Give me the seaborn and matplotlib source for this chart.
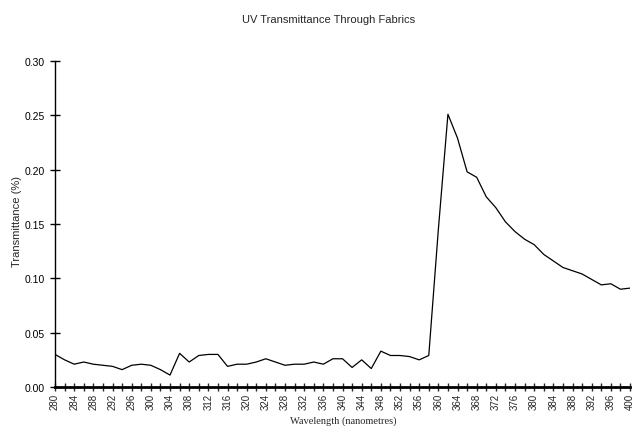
import numpy as np
import pandas as pd
import seaborn as sns
import matplotlib
matplotlib.use("Agg")
import matplotlib.pyplot as plt
import matplotlib.ticker as ticker

# wavelength (nm) and transmittance
wavelength = list(range(280, 402, 2))
transmittance = [
    0.030, 0.025, 0.021, 0.023, 0.021, 0.020, 0.019, 0.016, 0.020, 0.021,
    0.020, 0.016, 0.011, 0.031, 0.023, 0.029, 0.030, 0.030, 0.019, 0.021,
    0.021, 0.023, 0.026, 0.023, 0.020, 0.021, 0.021, 0.023, 0.021, 0.026,
    0.026, 0.018, 0.025, 0.017, 0.033, 0.029, 0.029, 0.028, 0.025, 0.029,
    0.145, 0.251, 0.229, 0.198, 0.193, 0.175, 0.165, 0.152, 0.143, 0.136,
    0.131, 0.122, 0.116, 0.110, 0.107, 0.104, 0.099, 0.094, 0.095, 0.090,
    0.091,
]
y_ticks = [0.00, 0.05, 0.10, 0.15, 0.20, 0.25, 0.30]

df = pd.DataFrame({"wavelength": wavelength, "transmittance": transmittance})

sns.set_style("ticks")
plt.rcParams['font.family'] = ['Liberation Sans', 'DejaVu Sans']

fig = plt.figure(figsize=(6.36, 4.27), dpi=100)
ax = fig.add_axes([0.0865, 0.0913, 0.9041, 0.7635])

sns.lineplot(data=df, x="wavelength", y="transmittance", ax=ax,
             color="black", linewidth=0.9)

ax.set_xlim(280, 400)
ax.set_ylim(0, 0.30)
ax.xaxis.set_major_locator(ticker.MultipleLocator(4))
ax.xaxis.set_minor_locator(ticker.MultipleLocator(2))
ax.set_yticks(y_ticks)
ax.yaxis.set_major_formatter(ticker.FormatStrFormatter('%.2f'))
ax.tick_params(axis='x', which='both', direction='inout', length=6, width=1,
               labelsize=7, labelrotation=90, pad=1)
ax.tick_params(axis='y', which='major', direction='inout', length=7, width=1,
               labelsize=7.5, pad=4, colors='black')
for s in ['top', 'right']:
    ax.spines[s].set_visible(False)
ax.spines['left'].set_linewidth(1)
ax.spines['left'].set_color('black')
ax.spines['bottom'].set_linewidth(2)
ax.spines['bottom'].set_color('black')

ax.set_xlabel("")
ax.set_ylabel("")
fig.text(0.027, 0.482, "Transmittance (%)", rotation=90, fontsize=8,
         ha='center', va='center')
fig.text(0.54, 0.003, "Wavelength (nanometres)", fontsize=7.5,
         family=['Liberation Serif', 'DejaVu Serif'], ha='center', va='bottom')
fig.text(0.516, 0.953, "UV Transmittance Through Fabrics", fontsize=8,
         ha='center', va='center')

fig.savefig("out.png", dpi=100)
